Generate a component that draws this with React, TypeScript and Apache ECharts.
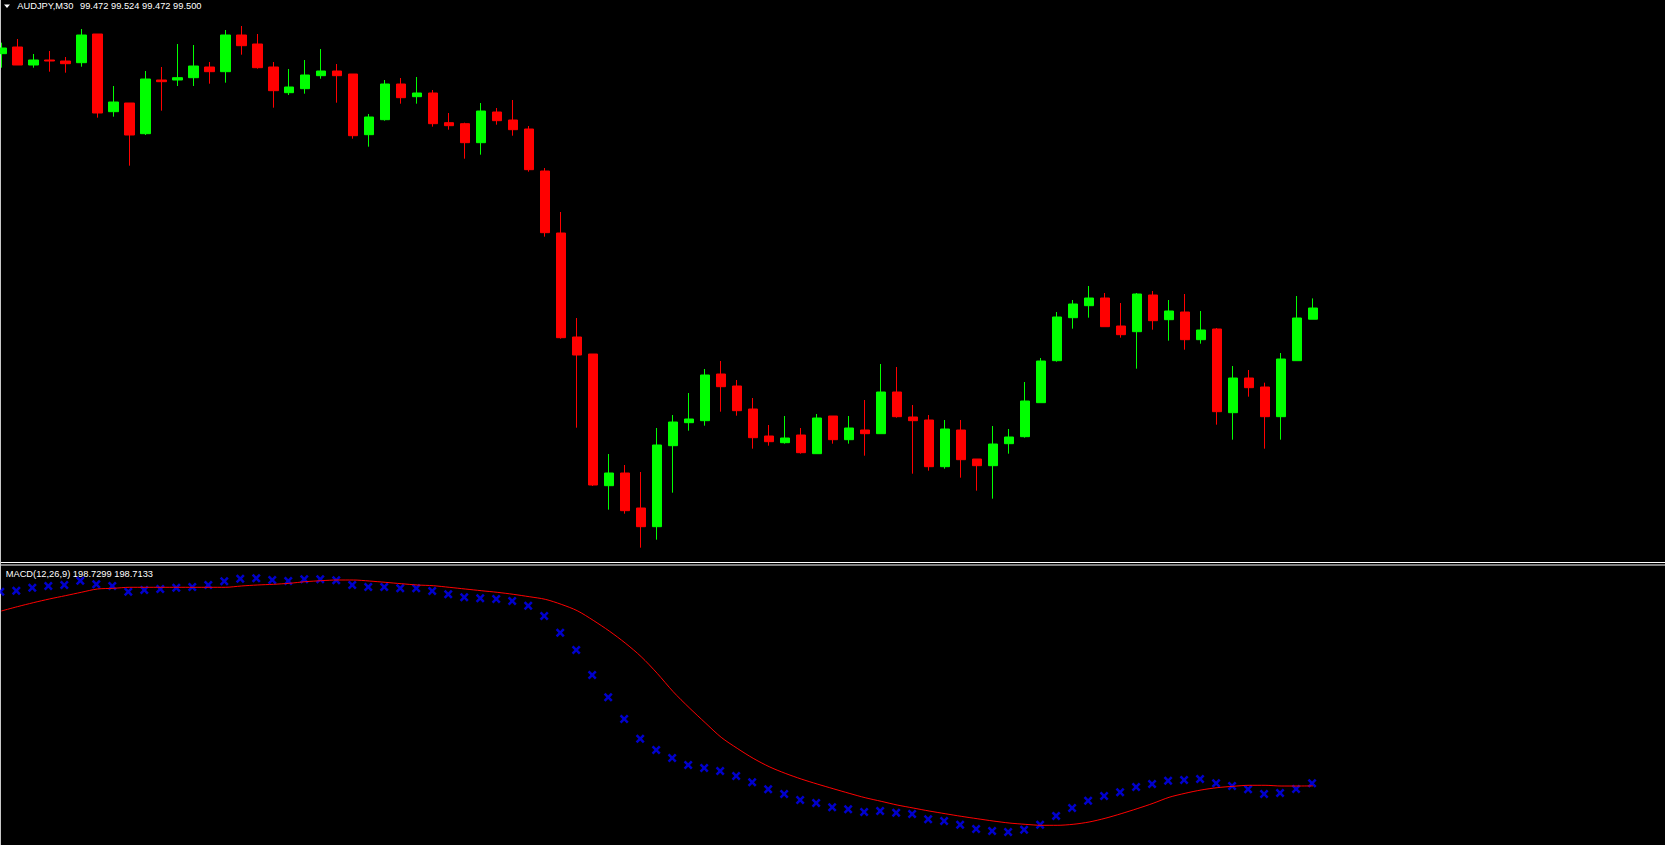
import React, { useEffect, useRef } from "react";
import * as echarts from "echarts";

const SYMBOL_TEXT = "AUDJPY,M30";
const QUOTE_TEXT = "99.472 99.524 99.472 99.500";
const MACD_TEXT = "MACD(12,26,9) 198.7299 198.7133";

const SLOT_COUNT = 105; // bar slots incl. empty chart-shift area on the right
const categories = Array.from({ length: SLOT_COUNT }, (_, i) => String(i + 1));

const opens = [100.1358,100.1525,100.1075,100.12,100.1175,100.1133,100.185,99.9908,100.0125,99.9358,
100.07,100.07,100.0758,100.1025,100.0908,100.1825,100.16,100.1025,100.0383,100.0483,
100.0808,100.0925,100.085,99.9333,99.9708,100.06,100.0283,100.0375,99.9633,99.9608,
99.9133,99.99,99.97,99.9475,99.8425,99.6875,99.4275,99.385,99.0558,99.0875,
99.0,98.9533,99.1558,99.2133,99.2183,99.335,99.305,99.2475,99.18,99.1633,
99.1825,99.1358,99.23,99.1708,99.195,99.1858,99.29,99.2275,99.22,99.1033,
99.195,99.1225,99.1058,99.1608,99.1783,99.2633,99.3683,99.4758,99.5058,99.525,
99.455,99.4408,99.5325,99.4708,99.49,99.4208,99.4475,99.2383,99.325,99.3025,
99.2283,99.3683,99.472];

const closes = [100.15,100.1075,100.12,100.1175,100.1108,100.1825,99.9875,100.015,99.9325,100.0725,
100.0658,100.0758,100.105,100.0908,100.1825,100.1558,100.1008,100.0433,100.0525,100.0825,
100.0925,100.0808,99.9308,99.9775,100.06,100.0258,100.0375,99.9608,99.9558,99.9133,
99.9925,99.9683,99.9458,99.8458,99.6883,99.4258,99.3825,99.0575,99.0875,98.9933,
98.9533,99.1575,99.215,99.2225,99.3325,99.3033,99.2433,99.1758,99.1658,99.175,
99.1383,99.225,99.1708,99.2,99.1858,99.29,99.2283,99.2183,99.1033,99.1975,
99.1208,99.1058,99.16,99.1775,99.2675,99.3675,99.4775,99.51,99.525,99.4533,
99.4333,99.535,99.4683,99.4925,99.4208,99.445,99.2408,99.325,99.3008,99.2283,
99.3725,99.475,99.5];

const lows = [100.1008,100.1075,100.1008,100.0908,100.0883,100.1033,99.9758,99.9783,99.8558,99.9325,
99.9933,100.055,100.055,100.0608,100.0633,100.1333,100.0983,100.0008,100.0325,100.0358,
100.0733,100.0133,99.9233,99.9033,99.9683,100.0108,100.0108,99.9533,99.9458,99.8733,
99.8833,99.9583,99.9308,99.8408,99.6783,99.4233,99.2008,99.055,98.9958,98.9858,
98.9008,98.9208,99.0383,99.1933,99.2058,99.2408,99.2308,99.1483,99.1558,99.1608,
99.1358,99.1358,99.1608,99.1608,99.1308,99.1858,99.2258,99.0858,99.0933,99.0983,
99.0758,99.0433,99.0233,99.1358,99.1758,99.2633,99.3658,99.4483,99.4758,99.4533,
99.4258,99.3483,99.4458,99.4183,99.3958,99.4108,99.2083,99.1708,99.2783,99.1483,
99.1708,99.3683,99.472];

const highs = [100.1633,100.1725,100.135,100.1425,100.1275,100.1975,100.185,100.055,100.0125,100.0925,
100.1025,100.16,100.1575,100.115,100.195,100.205,100.185,100.115,100.0975,100.12,
100.1475,100.11,100.085,99.985,100.07,100.075,100.0775,100.045,99.9875,99.9633,
100.0125,100.0,100.02,99.955,99.85,99.74,99.475,99.385,99.135,99.1075,
99.09,99.2,99.2325,99.2875,99.3475,99.3675,99.32,99.275,99.2075,99.23,
99.2,99.235,99.23,99.23,99.27,99.36,99.3525,99.2575,99.2325,99.22,
99.22,99.1225,99.205,99.1975,99.315,99.375,99.49,99.52,99.555,99.5375,
99.5125,99.5375,99.5425,99.52,99.535,99.4925,99.45,99.355,99.345,99.3133,
99.3875,99.53,99.524];

const macdMain = [199.9175,199.9237,199.9423,199.9528,199.959,199.9857,199.9633,199.9528,199.9175,199.928,
199.9342,199.9423,199.9466,199.959,199.9819,199.9981,200.0005,199.99,199.9838,199.9943,
199.9943,199.9881,199.959,199.9466,199.9466,199.9385,199.9385,199.9218,199.9013,199.8827,
199.8765,199.8722,199.8598,199.8307,199.7668,199.6633,199.556,199.401,199.2627,199.1282,
199.0061,198.936,198.8864,198.843,198.8244,198.8058,198.7748,198.7357,198.6923,198.6632,
198.626,198.6074,198.5807,198.5683,198.5516,198.5578,198.5473,198.5392,198.5063,198.4958,
198.4729,198.4462,198.4338,198.4276,198.4419,198.4729,198.5274,198.5764,198.621,198.6508,
198.6737,198.7066,198.7252,198.7457,198.75,198.7562,198.7295,198.7128,198.6923,198.6632,
198.6694,198.6942,198.7299];

const macdSignal = [199.7978,199.8245,199.8493,199.8722,199.8927,199.9137,199.9342,199.9385,199.9447,199.9447,
199.9447,199.9447,199.9447,199.9447,199.9447,199.9528,199.959,199.9633,199.9695,199.9795,
199.9857,199.99,199.99,199.9838,199.9757,199.9671,199.959,199.9547,199.9447,199.9342,
199.9237,199.9137,199.9013,199.8865,199.8703,199.8393,199.7997,199.7401,199.6738,199.5994,
199.5145,199.4115,199.2975,199.1983,199.1053,199.0147,198.9465,198.8845,198.8325,198.7915,
198.7562,198.7252,198.6961,198.6675,198.6403,198.6179,198.595,198.5764,198.5578,198.5411,
198.5249,198.5101,198.4958,198.4834,198.4753,198.4691,198.4691,198.4753,198.4896,198.5125,
198.5411,198.5721,198.6055,198.6427,198.6675,198.688,198.7023,198.7109,198.7171,198.7171,
198.7128,198.7128,198.7133];

const PRICE_MIN = 98.8675;
const PRICE_MAX = 100.2675;
const MACD_MIN = 198.347;
const MACD_MAX = 200.0768;

const X_PATH =
  "path://M0,1.8 L1.8,0 L4.5,2.7 L7.2,0 L9,1.8 L6.3,4.5 L9,7.2 L7.2,9 L4.5,6.3 L1.8,9 L0,7.2 L2.7,4.5 Z";

const FONT = "Liberation Sans, Arial, sans-serif";

export default function App() {
  const ref = useRef<HTMLDivElement>(null);

  useEffect(() => {
    if (!ref.current) return;
    const chart = echarts.init(ref.current, undefined, { renderer: "svg" });
    const candleData = opens.map((o, i) => [o, closes[i], lows[i], highs[i]]);

    const hiddenX = (gridIndex: number) => ({
      type: "category",
      gridIndex,
      data: categories,
      boundaryGap: false,
      axisLine: { show: false },
      axisTick: { show: false },
      axisLabel: { show: false },
      splitLine: { show: false },
    });

    const hiddenY = (gridIndex: number, min: number, max: number) => ({
      type: "value",
      gridIndex,
      min,
      max,
      scale: true,
      axisLine: { show: false },
      axisTick: { show: false },
      axisLabel: { show: false },
      splitLine: { show: false },
    });

    chart.setOption({
      animation: false,
      backgroundColor: "#000000",
      grid: [
        { left: 1.3, right: -0.3, top: 1, bottom: 284 },
        { left: 1.3, right: -0.3, top: 566, bottom: 0 },
      ],
      xAxis: [hiddenX(0), hiddenX(1)],
      yAxis: [hiddenY(0, PRICE_MIN, PRICE_MAX), hiddenY(1, MACD_MIN, MACD_MAX)],
      series: [
        {
          type: "candlestick",
          xAxisIndex: 0,
          yAxisIndex: 0,
          data: candleData,
          barWidth: 10,
          clip: false,
          itemStyle: {
            color: "#00ff00",
            color0: "#ff0000",
            borderColor: "#00ff00",
            borderColor0: "#ff0000",
            borderWidth: 1,
          },
        },
        {
          type: "line",
          name: "Signal",
          xAxisIndex: 1,
          yAxisIndex: 1,
          data: macdSignal,
          symbol: "none",
          smooth: 0.3,
          clip: false,
          lineStyle: { color: "#ff0000", width: 1 },
        },
        {
          type: "scatter",
          name: "MACD",
          xAxisIndex: 1,
          yAxisIndex: 1,
          data: macdMain,
          symbol: X_PATH,
          symbolSize: 9,
          symbolOffset: [-1, 0],
          clip: false,
          itemStyle: { color: "#0000ff" },
        },
      ],
      graphic: [
        { type: "rect", shape: { x: 0, y: 562, width: 1665, height: 1 }, style: { fill: "#ffffff" }, silent: true },
        { type: "rect", shape: { x: 0, y: 564.5, width: 1665, height: 1 }, style: { fill: "#ffffff" }, silent: true },
        { type: "rect", shape: { x: 0, y: 0, width: 1, height: 845 }, style: { fill: "#c8c8c8" }, silent: true },
        {
          type: "polygon",
          shape: { points: [[4, 4.5], [10, 4.5], [7, 8]] },
          style: { fill: "#ffffff" },
          silent: true,
        },
        {
          type: "text",
          x: 17.3,
          y: 6.3,
          style: { text: SYMBOL_TEXT, fill: "#ffffff", font: `9.3px ${FONT}`, verticalAlign: "middle", align: "left" },
          silent: true,
        },
        {
          type: "text",
          x: 80,
          y: 6.3,
          style: { text: QUOTE_TEXT, fill: "#ffffff", font: `9.3px ${FONT}`, verticalAlign: "middle", align: "left" },
          silent: true,
        },
        {
          type: "text",
          x: 5.7,
          y: 573.7,
          style: { text: MACD_TEXT, fill: "#ffffff", font: `9.3px ${FONT}`, verticalAlign: "middle", align: "left" },
          silent: true,
        },
      ],
    });

    return () => chart.dispose();
  }, []);

  return (
    <div
      ref={ref}
      style={{ position: "absolute", left: 0, top: 0, width: 1665, height: 845, background: "#000" }}
    />
  );
}
